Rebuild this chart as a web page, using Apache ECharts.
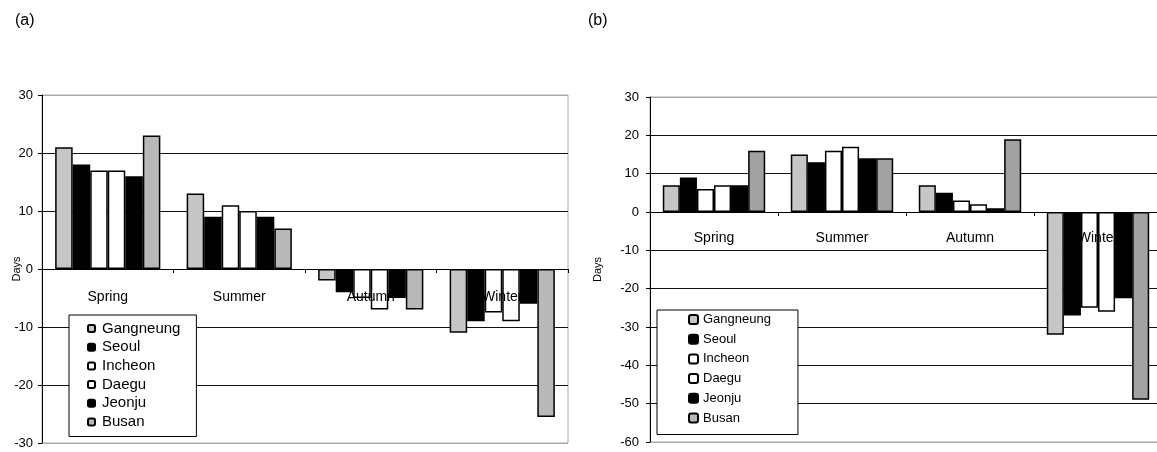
<!DOCTYPE html>
<html><head><meta charset="utf-8">
<script src="https://cdn.jsdelivr.net/npm/echarts@6/dist/echarts.min.js"></script>
<style>html,body{margin:0;padding:0;background:#fff}#c{width:1157px;height:452px}</style>
</head><body><div id="c"></div>
<script>
const categories = ['Spring', 'Summer', 'Autumn', 'Winter'];
const cities = ['Gangneung', 'Seoul', 'Incheon', 'Daegu', 'Jeonju', 'Busan'];
// (a)
const aGangneung = [21, 13, -2, -11];
const aSeoul     = [18, 9, -4, -9];
const aIncheon   = [17, 11, -5, -7.5];
const aDaegu     = [17, 10, -7, -9];
const aJeonju    = [16, 9, -5, -6];
const aBusan     = [23, 7, -7, -25.5];
// (b)
const bGangneung = [7, 15, 7, -32];
const bSeoul     = [9, 13, 5, -27];
const bIncheon   = [6, 16, 3, -25];
const bDaegu     = [7, 17, 2, -26];
const bJeonju    = [7, 14, 1, -22.5];
const bBusan     = [16, 14, 19, -49];
const aTicks = {min: -30, max: 30, interval: 10};
const bTicks = {min: -60, max: 30, interval: 10};

const aData = [aGangneung, aSeoul, aIncheon, aDaegu, aJeonju, aBusan];
const bData = [bGangneung, bSeoul, bIncheon, bDaegu, bJeonju, bBusan];
const fills = ['#c6c6c6', '#000000', '#ffffff', '#ffffff', '#000000', '#b8b8b8'];
const fillsB = ['#c6c6c6', '#000000', '#ffffff', '#ffffff', '#000000', '#a2a2a2'];
const FONT = 'Liberation Sans, Arial, sans-serif';

const chart = echarts.init(document.getElementById('c'), null, {renderer: 'canvas'});

function xAx(gi, margin) {
  return {
    type: 'category', gridIndex: gi, data: categories, z: 5,
    axisLine: {onZero: true, lineStyle: {color: '#000', width: 1}},
    axisTick: {show: true, length: 4, inside: false, lineStyle: {color: '#000'}},
    axisLabel: {color: '#000', fontFamily: FONT, fontSize: 14, margin: margin},
    splitLine: {show: false}
  };
}
function yAx(gi, t, gap, lm) {
  const n = Math.round((t.max - t.min) / t.interval) + 1;
  const cols = [];
  for (let i = 0; i < n; i++) cols.push(i === 0 || i === n - 1 ? '#aaa' : '#111');
  return {
    type: 'value', gridIndex: gi, min: t.min, max: t.max, interval: t.interval,
    name: 'Days', nameLocation: 'middle', nameGap: gap, nameRotate: 90, nameMoveOverlap: false,
    nameTextStyle: {color: '#000', fontFamily: FONT, fontSize: 11},
    axisLine: {show: true, lineStyle: {color: '#000', width: 1}},
    axisTick: {show: true, length: 4, lineStyle: {color: '#000'}},
    axisLabel: {color: '#000', fontFamily: FONT, fontSize: 13, margin: lm},
    splitLine: {show: true, lineStyle: {color: cols, width: 1}}
  };
}

const series = [];
cities.forEach((c, i) => {
  series.push({
    name: c, type: 'bar', xAxisIndex: 0, yAxisIndex: 0, data: aData[i],
    barGap: '0%', barCategoryGap: '20%',
    itemStyle: {color: fills[i], borderColor: '#000', borderWidth: 1.5},
    emphasis: {disabled: true}
  });
});
cities.forEach((c, i) => {
  series.push({
    name: c, type: 'bar', xAxisIndex: 1, yAxisIndex: 1, data: bData[i],
    barGap: '0%', barCategoryGap: '20%',
    itemStyle: {color: fillsB[i], borderColor: '#000', borderWidth: 1.5},
    emphasis: {disabled: true}
  });
});

function legend(left, top, pad, fs, iw, gap, tpad) {
  return {
    data: cities, orient: 'vertical', left: left, top: top,
    itemWidth: iw, itemHeight: iw, itemGap: gap,
    padding: pad, borderColor: '#000', borderWidth: 1, backgroundColor: '#fff',
    textStyle: {color: '#000', fontFamily: FONT, fontSize: fs, lineHeight: 15, padding: tpad},
    selectedMode: false, z: 10
  };
}

chart.setOption({
  animation: false,
  backgroundColor: '#fff',
  title: [
    {text: '(a)', left: 10, top: 8, textStyle: {fontFamily: FONT, fontSize: 16, fontWeight: 'normal', color: '#000'}},
    {text: '(b)', left: 583, top: 8, textStyle: {fontFamily: FONT, fontSize: 16, fontWeight: 'normal', color: '#000'}}
  ],
  grid: [
    {left: 42, top: 95, width: 526, height: 348, show: true, borderColor: '#aaa', borderWidth: 1, containLabel: false, outerBoundsMode: 'none'},
    {left: 650, top: 97, width: 512, height: 345, show: true, borderColor: '#aaa', borderWidth: 1, containLabel: false, outerBoundsMode: 'none'}
  ],
  xAxis: [xAx(0, -153), xAx(1, -211)],
  yAxis: [yAx(0, aTicks, 20, 9), yAx(1, bTicks, 47, 11)],
  legend: [
    legend(69, 315, [6, 16, 7, 18], 15, 7, 3.7, [0, 0, 0, 2]),
    legend(657, 310, [2, 27, 9, 31], 13, 9, 4.7, [0, 0, 0, 0])
  ],
  series: series
});
</script></body></html>
